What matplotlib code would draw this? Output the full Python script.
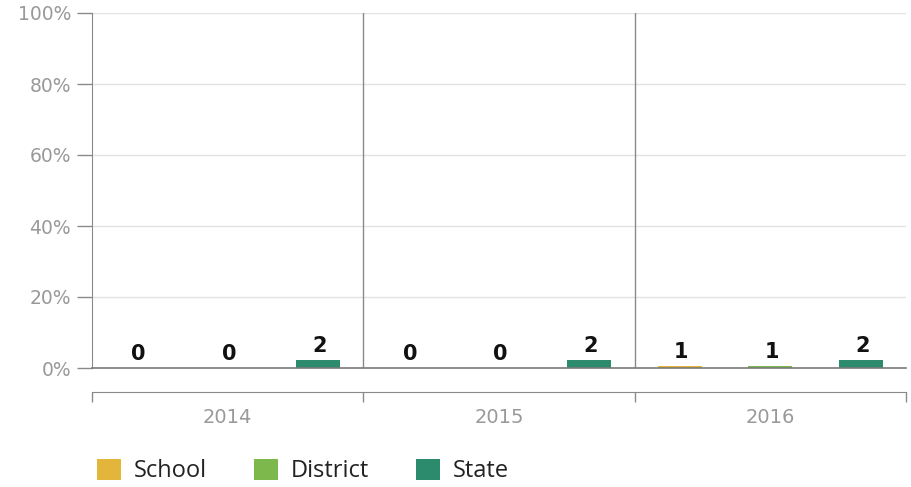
import numpy as np
import matplotlib
matplotlib.use("Agg")
import matplotlib.pyplot as plt
from matplotlib.patches import Patch

# data
years = ["2014", "2015", "2016"]
series = ["School", "District", "State"]
colors = ["#E3B53A", "#7DB84C", "#2C8B6C"]
# bar heights (percent)
school_pct = [0.0, 0.0, 0.6]
district_pct = [0.0, 0.0, 0.6]
state_pct = [2.2, 2.2, 2.2]
# value labels shown above the bars
school_n = [0, 0, 1]
district_n = [0, 0, 1]
state_n = [2, 2, 2]

pct = [school_pct, district_pct, state_pct]
counts = [school_n, district_n, state_n]

plt.rcParams['font.family'] = ['DejaVu Sans']

fig = plt.figure(figsize=(9.12, 4.87), dpi=100)
W, H = 912, 487
ax = fig.add_axes([92 / W, 1 - 368 / H, (906 - 92) / W, (368 - 13) / H])

bar_w = 0.162
for j in range(len(series)):
    x = np.arange(len(years)) + (j + 0.5) / 3
    ax.bar(x, pct[j], width=bar_w, color=colors[j], zorder=3)
    for xi, v, n in zip(x, pct[j], counts[j]):
        ax.annotate(str(n), (xi, v), xytext=(1, 3), textcoords="offset points",
                    ha="center", va="bottom", fontsize=15, fontweight="bold",
                    color="#111111", zorder=4)

ax.set_xlim(0, len(years))
ax.set_ylim(0, 100)

# horizontal grid and category separators
for yv in [20, 40, 60, 80, 100]:
    ax.axhline(yv, color="#e2e2e2", lw=1, zorder=1)
for xv in range(1, len(years)):
    ax.axvline(xv, color="#8a8a8a", lw=1, zorder=2)
ax.axhline(0, color="#7a7a7a", lw=1.2, zorder=5, clip_on=False)

ax.set_yticks([0, 20, 40, 60, 80, 100])
ax.set_yticklabels(["0%", "20%", "40%", "60%", "80%", "100%"])
ax.tick_params(axis="y", length=11, width=1, color="#8a8a8a", pad=4,
               labelsize=13.5, labelcolor="#999999")

for s in ["top", "right"]:
    ax.spines[s].set_visible(False)
ax.spines["left"].set_color("#8a8a8a")
ax.spines["bottom"].set_color("#8a8a8a")
ax.spines["bottom"].set_position(("outward", 17))

ax.set_xticks(range(len(years) + 1))
ax.set_xticklabels([])
ax.set_xticks(np.arange(len(years)) + 0.5, minor=True)
ax.set_xticklabels(years, minor=True)
ax.tick_params(axis="x", which="major", length=7, width=1, color="#8a8a8a", direction="out")
ax.tick_params(axis="x", which="minor", length=0, pad=12, labelsize=14, labelcolor="#999999")

handles = [Patch(facecolor=c, edgecolor="none") for c in colors]
fig.legend(handles, series, loc="center left", bbox_to_anchor=(97 / W, 1 - 471 / H),
           ncol=3, frameon=False, prop={"family": "Open Sans", "size": 17},
           handlelength=1.0, handleheight=1.0, borderpad=0, borderaxespad=0,
           handletextpad=0.55, columnspacing=2.0, labelcolor="#222222")

fig.savefig("out.png", dpi=100)
